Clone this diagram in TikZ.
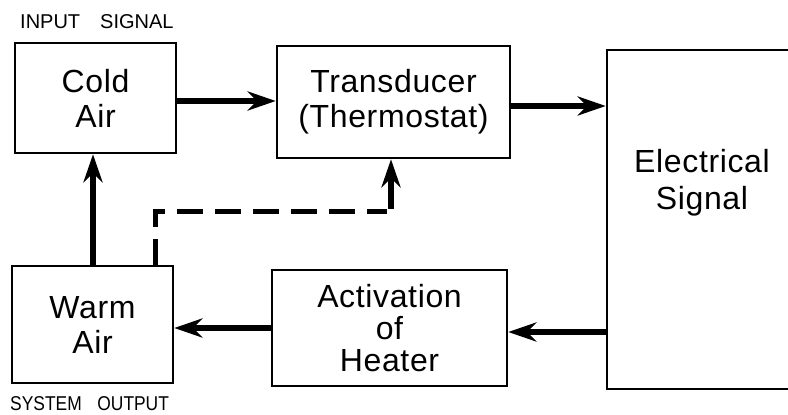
\documentclass[tikz,border=0pt]{standalone}
\usepackage{fontspec}
\usepackage{graphicx}
\setmainfont{Liberation Sans}
\newfontfamily\boxfont[LetterSpace=2]{Liberation Sans}
\usetikzlibrary{arrows.meta}
\begin{document}
\begin{tikzpicture}[x=1pt,y=-1pt,
  box/.style={draw, line width=2.5pt, rectangle, inner sep=0pt, align=center,
    font=\boxfont\fontsize{32}{35}\selectfont},
  arr/.style={line width=5.5pt, -{Stealth[length=28pt,width=19pt,inset=9pt]}},
  dasharr/.style={line width=5pt, dash pattern=on 26pt off 12pt},
  lbl/.style={inner sep=0pt, anchor=base west, font=\fontsize{20}{24}\selectfont}]
\useasboundingbox (0,0) rectangle (788,415);
\fill[white] (0,0) rectangle (788,415);
\begin{scope}
\clip (0,0) rectangle (788,415);
\node[box, minimum width=161pt, minimum height=110pt] (cold) at (95.5,98) {Cold\\Air};
\node[box, minimum width=233pt, minimum height=112pt] (trans) at (393.5,102) {Transducer\\(Thermostat)};
\node[box, minimum width=193pt, minimum height=339pt] (elec) at (703.5,219.5) {};
\node[font=\boxfont\fontsize{32}{37}\selectfont, align=center, inner sep=0pt] (etext) at (702,183) {Electrical\\Signal};
\node[box, minimum width=161pt, minimum height=117pt] (warm) at (92.5,324.5) {Warm\\Air};
\node[box, minimum width=235pt, minimum height=116pt, font=\boxfont\fontsize{32}{32}\selectfont] (act) at (389.5,328) {Activation\\of\\Heater};
\end{scope}

\node[lbl] (inlbl) at (20,28) {INPUT\hspace{20pt}SIGNAL};
\node[lbl] (outlbl) at (10,410) {\scalebox{0.87}[1]{SYSTEM\hspace{18pt}OUTPUT}};

\draw[arr] (cold.east |- 0,101) -- (trans.west |- 0,101);
\draw[arr] (trans.east |- 0,106) -- (elec.west |- 0,106);
\draw[arr] (elec.west |- 0,332) -- (act.east |- 0,332);
\draw[arr] (act.west) -- (act.west -| warm.east);
\draw[arr] (warm.north -| 93,0) -- (cold.south -| 93,0);

\coordinate (d1) at (155,211);
\coordinate (d2) at (391,211);
\draw[dasharr] (warm.north -| d1) -- (d1) -- ([xshift=-4pt]d2);
\draw[arr] ([yshift=2.5pt]d2) -- (trans.south -| d2);
\end{tikzpicture}
\end{document}
